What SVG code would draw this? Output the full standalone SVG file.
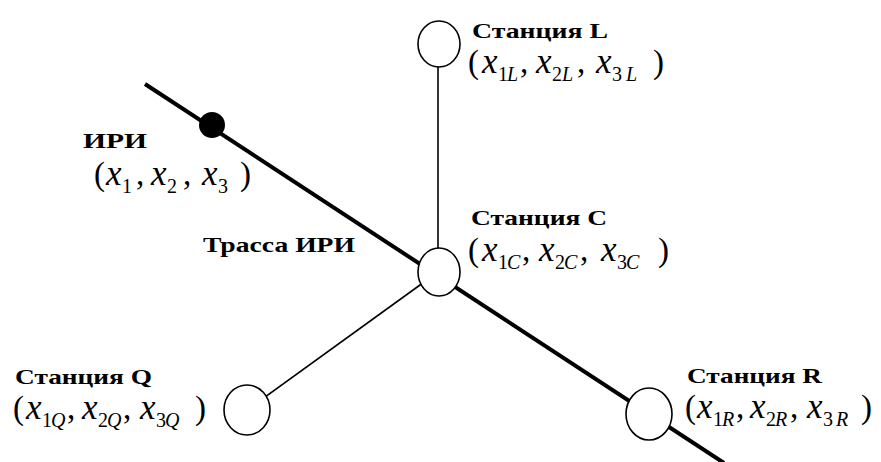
<svg xmlns="http://www.w3.org/2000/svg" width="881" height="462" viewBox="0 0 881 462">
<style>
.bg{fill:#fff}
.track{stroke:#000;stroke-width:4;fill:none}
.link{stroke:#000;stroke-width:1.6;fill:none}
.st{fill:#fff;stroke:#000;stroke-width:1.6}
.t{font-family:"Liberation Serif","Times New Roman",serif;font-weight:bold;font-size:22px;fill:#000}
.f{font-family:"Liberation Serif","Times New Roman",serif;font-size:33px;fill:#000}
.i{font-style:italic;font-size:35px}
.s{font-size:20px}
.si{font-size:20px;font-style:italic}
</style>
<rect class="bg" width="881" height="462"/>
<g id="connectors">
<line class="track" x1="145" y1="84" x2="724" y2="463"/>
<line class="link" x1="438" y1="44" x2="438" y2="272"/>
<line class="link" x1="438" y1="272" x2="247" y2="410"/>
</g>
<g id="iri">
<circle cx="212" cy="125" r="13" fill="#000"/>
<text class="t" x="83" y="148" textLength="64" lengthAdjust="spacingAndGlyphs">ИРИ</text>
<text class="f" transform="translate(94,185)"><tspan x="0">(</tspan><tspan class="i" x="12">x</tspan><tspan class="s" x="28" y="8">1</tspan><tspan x="42" y="0">,</tspan><tspan class="i" x="57">x</tspan><tspan class="s" x="73" y="8">2</tspan><tspan x="89" y="0">,</tspan><tspan class="i" x="108">x</tspan><tspan class="s" x="124" y="8">3</tspan><tspan x="146" y="0">)</tspan></text>
</g>
<g id="track-label">
<text class="t" x="203" y="252" textLength="152" lengthAdjust="spacingAndGlyphs">Трасса ИРИ</text>
</g>
<g id="station-L">
<ellipse class="st" cx="439" cy="44" rx="21" ry="23"/>
<text class="t" x="472" y="38" textLength="136" lengthAdjust="spacingAndGlyphs">Станция L</text>
<text class="f" transform="translate(468,73)"><tspan x="0">(</tspan><tspan class="i" x="14">x</tspan><tspan class="s" x="30" y="8">1</tspan><tspan class="si" x="39" y="8">L</tspan><tspan x="52" y="0">,</tspan><tspan class="i" x="68">x</tspan><tspan class="s" x="84" y="8">2</tspan><tspan class="si" x="94" y="8">L</tspan><tspan x="109" y="0">,</tspan><tspan class="i" x="128">x</tspan><tspan class="s" x="144" y="8">3</tspan><tspan class="si" x="158" y="8">L</tspan><tspan x="185" y="0">)</tspan></text>
</g>
<g id="station-C">
<ellipse class="st" cx="439" cy="272" rx="21" ry="24"/>
<text class="t" x="471" y="225" textLength="136" lengthAdjust="spacingAndGlyphs">Станция С</text>
<text class="f" transform="translate(468,261)"><tspan x="0">(</tspan><tspan class="i" x="14">x</tspan><tspan class="s" x="30" y="8">1</tspan><tspan class="si" x="39" y="8">C</tspan><tspan x="54" y="0">,</tspan><tspan class="i" x="71">x</tspan><tspan class="s" x="87" y="8">2</tspan><tspan class="si" x="96" y="8">C</tspan><tspan x="112" y="0">,</tspan><tspan class="i" x="133">x</tspan><tspan class="s" x="149" y="8">3</tspan><tspan class="si" x="158" y="8">C</tspan><tspan x="190" y="0">)</tspan></text>
</g>
<g id="station-Q">
<ellipse class="st" cx="247" cy="410" rx="23" ry="25"/>
<text class="t" x="15" y="384" textLength="137" lengthAdjust="spacingAndGlyphs">Станция Q</text>
<text class="f" transform="translate(13,419)"><tspan x="0">(</tspan><tspan class="i" x="13">x</tspan><tspan class="s" x="29" y="8">1</tspan><tspan class="si" x="38" y="8">Q</tspan><tspan x="54" y="0">,</tspan><tspan class="i" x="69">x</tspan><tspan class="s" x="85" y="8">2</tspan><tspan class="si" x="94" y="8">Q</tspan><tspan x="110" y="0">,</tspan><tspan class="i" x="127">x</tspan><tspan class="s" x="143" y="8">3</tspan><tspan class="si" x="152" y="8">Q</tspan><tspan x="182" y="0">)</tspan></text>
</g>
<g id="station-R">
<ellipse class="st" cx="649" cy="414" rx="23" ry="26"/>
<text class="t" x="687" y="383" textLength="135" lengthAdjust="spacingAndGlyphs">Станция R</text>
<text class="f" transform="translate(685,418)"><tspan x="0">(</tspan><tspan class="i" x="12">x</tspan><tspan class="s" x="28" y="8">1</tspan><tspan class="si" x="37" y="8">R</tspan><tspan x="51" y="0">,</tspan><tspan class="i" x="65">x</tspan><tspan class="s" x="81" y="8">2</tspan><tspan class="si" x="90" y="8">R</tspan><tspan x="105" y="0">,</tspan><tspan class="i" x="122">x</tspan><tspan class="s" x="138" y="8">3</tspan><tspan class="si" x="151" y="8">R</tspan><tspan x="176" y="0">)</tspan></text>
</g>
</svg>
